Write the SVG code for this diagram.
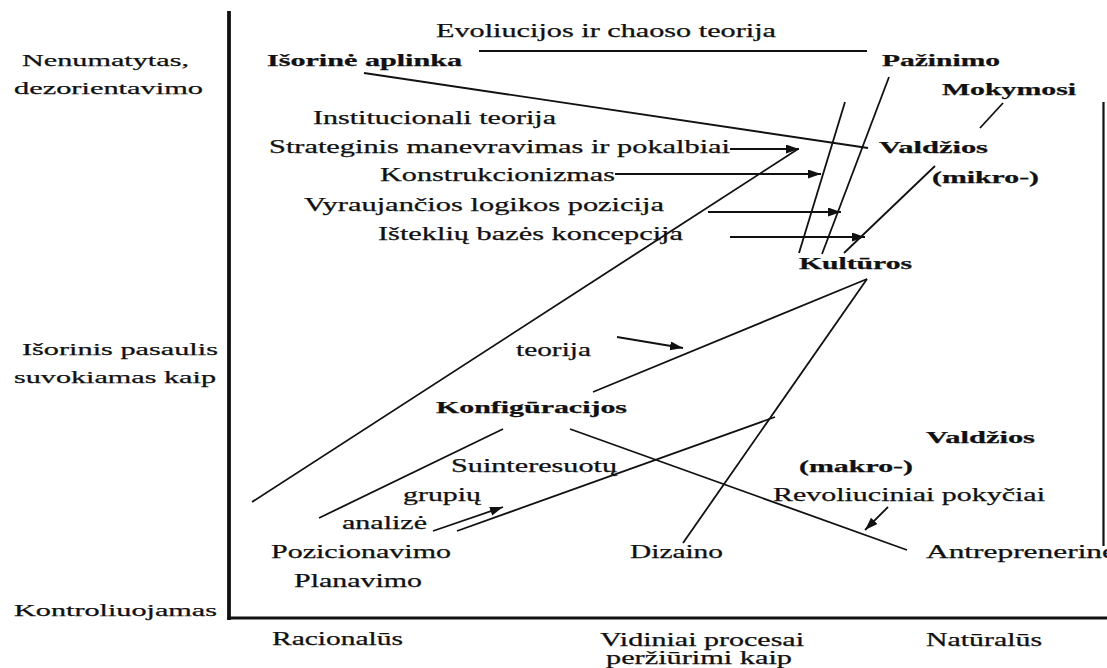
<svg xmlns="http://www.w3.org/2000/svg" width="1107" height="668" viewBox="0 0 1107 668">
  <style>
    text { font-family: "Liberation Serif", "Times New Roman", serif; fill: #111111; stroke: #111111; stroke-width: 0.25; }
    .r { font-size: 18px; }
    .b { font-size: 16.5px; font-weight: bold; }
    .side { font-size: 17px; }
    .axis { stroke: #111111; fill: none; stroke-linecap: square; }
    .ln { stroke: #111111; stroke-width: 1.8; fill: none; }
    .arr { stroke: #111111; stroke-width: 1.8; fill: none; marker-end: url(#head); }
  </style>
  <defs>
    <marker id="head" markerUnits="userSpaceOnUse" markerWidth="14" markerHeight="10" refX="13" refY="4.5" orient="auto">
      <path d="M0,0 L13,4.5 L0,9 z" fill="#111111"/>
    </marker>
  </defs>
  <rect width="1107" height="668" fill="#ffffff"/>

  <!-- axes and frame -->
  <g id="axes">
    <line class="axis" x1="229" y1="13" x2="229" y2="618" stroke-width="3.8"/>
    <line class="axis" x1="229" y1="618" x2="1107" y2="618" stroke-width="2.8"/>
    <line class="axis" x1="1103.5" y1="103" x2="1103.5" y2="545" stroke-width="2.2"/>
  </g>

  <!-- axis labels -->
  <g id="label-nenumatytas">
    <text class="side" x="22" y="66" textLength="167" lengthAdjust="spacingAndGlyphs">Nenumatytas,</text>
    <text class="side" x="14" y="94" textLength="189" lengthAdjust="spacingAndGlyphs">dezorientavimo</text>
  </g>
  <g id="label-isorinis">
    <text class="side" x="22" y="355" textLength="196" lengthAdjust="spacingAndGlyphs">Išorinis pasaulis</text>
    <text class="side" x="14" y="383" textLength="202" lengthAdjust="spacingAndGlyphs">suvokiamas kaip</text>
  </g>
  <g id="label-kontroliuojamas">
    <text class="side" x="14" y="616" textLength="203" lengthAdjust="spacingAndGlyphs">Kontroliuojamas</text>
  </g>
  <g id="label-racionalus">
    <text class="r" x="272" y="645" textLength="131" lengthAdjust="spacingAndGlyphs">Racionalūs</text>
  </g>
  <g id="label-vidiniai">
    <text class="r" x="600" y="646" textLength="204" lengthAdjust="spacingAndGlyphs">Vidiniai procesai</text>
    <text class="r" x="606" y="664" textLength="186" lengthAdjust="spacingAndGlyphs">peržiūrimi kaip</text>
  </g>
  <g id="label-naturalus">
    <text class="r" x="926" y="646" textLength="116" lengthAdjust="spacingAndGlyphs">Natūralūs</text>
  </g>

  <!-- schools -->
  <g id="n-isorine"><text class="b" x="267" y="66" textLength="195" lengthAdjust="spacingAndGlyphs">Išorinė aplinka</text></g>
  <g id="n-pazinimo"><text class="b" x="882" y="66" textLength="118" lengthAdjust="spacingAndGlyphs">Pažinimo</text></g>
  <g id="n-mokymosi"><text class="b" x="942" y="95" textLength="134" lengthAdjust="spacingAndGlyphs">Mokymosi</text></g>
  <g id="n-valdzios-mikro">
    <text class="b" x="879" y="153" textLength="109" lengthAdjust="spacingAndGlyphs">Valdžios</text>
    <text class="b" x="932" y="183" textLength="107" lengthAdjust="spacingAndGlyphs">(mikro-)</text>
  </g>
  <g id="n-kulturos"><text class="b" x="799" y="269" textLength="113" lengthAdjust="spacingAndGlyphs">Kultūros</text></g>
  <g id="n-konfiguracijos"><text class="b" x="436" y="413" textLength="191" lengthAdjust="spacingAndGlyphs">Konfigūracijos</text></g>
  <g id="n-valdzios-makro">
    <text class="b" x="926" y="443" textLength="109" lengthAdjust="spacingAndGlyphs">Valdžios</text>
    <text class="b" x="799" y="472" textLength="114" lengthAdjust="spacingAndGlyphs">(makro-)</text>
  </g>
  <g id="n-dizaino"><text class="r" x="630" y="558" textLength="93" lengthAdjust="spacingAndGlyphs">Dizaino</text></g>
  <g id="n-antreprenerine"><text class="r" x="926" y="558" textLength="190" lengthAdjust="spacingAndGlyphs">Antreprenerinė</text></g>
  <g id="n-pozicionavimo"><text class="r" x="271" y="558" textLength="180" lengthAdjust="spacingAndGlyphs">Pozicionavimo</text></g>
  <g id="n-planavimo"><text class="r" x="294" y="587" textLength="128" lengthAdjust="spacingAndGlyphs">Planavimo</text></g>

  <!-- theories -->
  <g id="t-evoliucijos"><text class="r" x="436" y="37" textLength="340" lengthAdjust="spacingAndGlyphs">Evoliucijos ir chaoso teorija</text></g>
  <g id="t-institucionali"><text class="r" x="313" y="124" textLength="243" lengthAdjust="spacingAndGlyphs">Institucionali teorija</text></g>
  <g id="t-strateginis"><text class="r" x="269" y="153" textLength="461" lengthAdjust="spacingAndGlyphs">Strateginis manevravimas ir pokalbiai</text></g>
  <g id="t-konstrukcionizmas"><text class="r" x="380" y="181" textLength="235" lengthAdjust="spacingAndGlyphs">Konstrukcionizmas</text></g>
  <g id="t-vyraujancios"><text class="r" x="304" y="211" textLength="360" lengthAdjust="spacingAndGlyphs">Vyraujančios logikos pozicija</text></g>
  <g id="t-istekliu"><text class="r" x="378" y="240" textLength="305" lengthAdjust="spacingAndGlyphs">Išteklių bazės koncepcija</text></g>
  <g id="t-teorija"><text class="r" x="516" y="356" textLength="75" lengthAdjust="spacingAndGlyphs">teorija</text></g>
  <g id="t-suinteresuotu">
    <text class="r" x="451" y="472" textLength="166" lengthAdjust="spacingAndGlyphs">Suinteresuotų</text>
    <text class="r" x="403" y="501" textLength="78" lengthAdjust="spacingAndGlyphs">grupių</text>
    <text class="r" x="342" y="529" textLength="85" lengthAdjust="spacingAndGlyphs">analizė</text>
  </g>
  <g id="t-revoliuciniai"><text class="r" x="773" y="501" textLength="272" lengthAdjust="spacingAndGlyphs">Revoliuciniai pokyčiai</text></g>

  <!-- connectors -->
  <g id="connectors">
    <line class="ln" x1="479" y1="51" x2="867" y2="51"/>
    <line class="ln" x1="364" y1="73" x2="868" y2="148"/>
    <line class="ln" x1="1003" y1="103" x2="980" y2="128"/>
    <line class="ln" x1="889" y1="77" x2="822" y2="254"/>
    <line class="ln" x1="845" y1="102" x2="799" y2="253"/>
    <line class="ln" x1="935" y1="166" x2="844" y2="253"/>
    <line class="ln" x1="252" y1="502" x2="798" y2="149"/>
    <line class="ln" x1="867" y1="279" x2="593" y2="392"/>
    <line class="ln" x1="867" y1="279" x2="683" y2="543"/>
    <line class="ln" x1="570" y1="429" x2="907" y2="550"/>
    <line class="ln" x1="319" y1="518" x2="503" y2="429"/>
    <line class="ln" x1="457" y1="531" x2="775" y2="417"/>
    <line class="arr" x1="730" y1="149" x2="799" y2="149"/>
    <line class="arr" x1="615" y1="174" x2="821" y2="174"/>
    <line class="arr" x1="708" y1="212" x2="841" y2="212"/>
    <line class="arr" x1="730" y1="237" x2="865" y2="237"/>
    <line class="arr" x1="617" y1="337" x2="683" y2="348"/>
    <line class="arr" x1="433" y1="531" x2="503" y2="507"/>
    <line class="arr" x1="888" y1="507" x2="865" y2="530"/>
  </g>
</svg>
